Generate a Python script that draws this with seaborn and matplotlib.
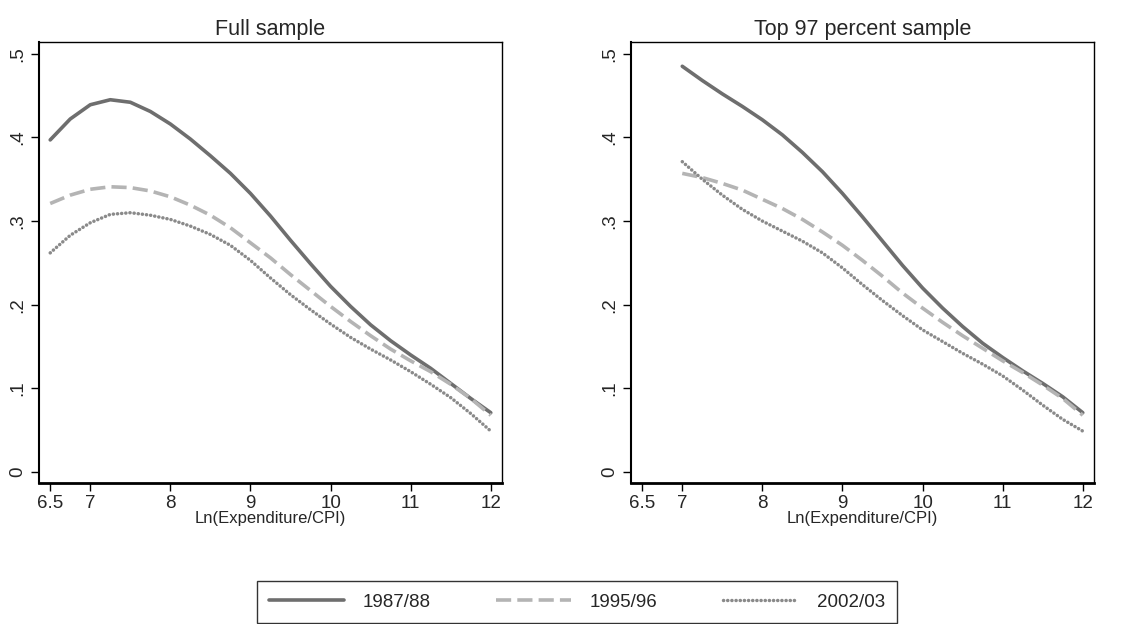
import numpy as np
import pandas as pd
import matplotlib
matplotlib.use("Agg")
import matplotlib.pyplot as plt
import seaborn as sns

# Values
x_full = [6.5, 6.75, 7.0, 7.25, 7.5, 7.75, 8.0, 8.25, 8.5, 8.75, 9.0, 9.25,
          9.5, 9.75, 10.0, 10.25, 10.5, 10.75, 11.0, 11.25, 11.5, 11.75, 12.0]
full_8788 = [0.397, 0.422, 0.439, 0.445, 0.442, 0.431, 0.416, 0.398, 0.378, 0.357, 0.333, 0.306,
             0.277, 0.249, 0.222, 0.198, 0.176, 0.157, 0.140, 0.124, 0.106, 0.088, 0.071]
full_9596 = [0.321, 0.331, 0.338, 0.341, 0.340, 0.336, 0.329, 0.319, 0.307, 0.292, 0.274, 0.256,
             0.236, 0.217, 0.198, 0.180, 0.163, 0.147, 0.133, 0.120, 0.105, 0.088, 0.068]
full_0203 = [0.262, 0.283, 0.298, 0.308, 0.310, 0.307, 0.302, 0.294, 0.284, 0.271, 0.253, 0.232,
             0.212, 0.194, 0.177, 0.161, 0.147, 0.134, 0.120, 0.105, 0.089, 0.070, 0.049]

x_top = [7.0, 7.25, 7.5, 7.75, 8.0, 8.25, 8.5, 8.75, 9.0, 9.25, 9.5,
         9.75, 10.0, 10.25, 10.5, 10.75, 11.0, 11.25, 11.5, 11.75, 12.0]
top_8788 = [0.485, 0.468, 0.452, 0.437, 0.421, 0.403, 0.382, 0.359, 0.333, 0.305, 0.276,
            0.247, 0.220, 0.196, 0.174, 0.154, 0.137, 0.121, 0.106, 0.090, 0.071]
top_9596 = [0.357, 0.352, 0.345, 0.337, 0.326, 0.315, 0.302, 0.287, 0.271, 0.253, 0.234,
            0.214, 0.196, 0.179, 0.163, 0.148, 0.133, 0.119, 0.104, 0.088, 0.068]
top_0203 = [0.371, 0.350, 0.331, 0.314, 0.300, 0.288, 0.276, 0.262, 0.244, 0.224, 0.205,
            0.187, 0.170, 0.156, 0.142, 0.129, 0.115, 0.098, 0.080, 0.063, 0.049]

years = ["1987/88", "1995/96", "2002/03"]
titles = ["Full sample", "Top 97 percent sample"]
x_ticks = [6.5, 7, 8, 9, 10, 11, 12]
x_tick_labels = ["6.5", "7", "8", "9", "10", "11", "12"]
y_ticks = [0, 0.1, 0.2, 0.3, 0.4, 0.5]
y_tick_labels = ["0", ".1", ".2", ".3", ".4", ".5"]

sns.set_style("white")
plt.rcParams["font.family"] = ["Liberation Sans", "DejaVu Sans"]

styles = {
    "1987/88": dict(color="#6e6e6e", linewidth=2.6, linestyle="-",
                    solid_capstyle="round", solid_joinstyle="round"),
    "1995/96": dict(color="#b4b4b4", linewidth=2.6, linestyle=(0, (4.2, 1.7)), dash_capstyle="butt"),
    "2002/03": dict(color="#8a8a8a", linewidth=2.5, linestyle=(0, (0.05, 1.15)), dash_capstyle="round"),
}

panels = [
    (x_full, [full_8788, full_9596, full_0203]),
    (x_top, [top_8788, top_9596, top_0203]),
]

fig = plt.figure(figsize=(11.31, 6.24), dpi=100)
ax_left = fig.add_axes([39 / 1131, 141 / 624, 463 / 1131, 441 / 624])
ax_right = fig.add_axes([631 / 1131, 141 / 624, 463 / 1131, 441 / 624])

for ax, (xs, series), title in zip([ax_left, ax_right], panels, titles):
    for year, ys in zip(years, series):
        df = pd.DataFrame({"x": xs, "y": ys})
        sns.lineplot(data=df, x="x", y="y", ax=ax, label=year, **styles[year])
    ax.set_xlim(6.36, 12.14)
    ax.set_ylim(-0.013, 0.514)
    ax.set_xticks(x_ticks)
    ax.set_xticklabels(x_tick_labels, fontsize=13.5)
    ax.set_yticks(y_ticks)
    ax.set_yticklabels(y_tick_labels, fontsize=13.5, rotation=90, va="center")
    ax.tick_params(axis="both", direction="out", length=6, width=1, color="black",
                   left=True, bottom=True, pad=3)
    ax.set_xlabel("Ln(Expenditure/CPI)", fontsize=12, labelpad=-1)
    ax.set_ylabel("")
    ax.set_title(title, fontsize=15.5, pad=5)
    for side, sp in ax.spines.items():
        sp.set_visible(True)
        sp.set_color("black")
        sp.set_linewidth(1.0)
    ax.spines["bottom"].set_linewidth(2.0)
    ax.spines["left"].set_linewidth(1.5)
    ax.get_legend().remove()

handles, labels = ax_left.get_legend_handles_labels()
leg = fig.legend(handles, labels, loc="center", bbox_to_anchor=(577 / 1131, 1 - 602 / 624),
                 ncol=3, frameon=True, fancybox=False, edgecolor="black", fontsize=13.5,
                 handlelength=4.0, columnspacing=3.5, handletextpad=1.0, borderpad=0.65)
leg.get_frame().set_linewidth(1.0)

fig.savefig("out.png", dpi=100, facecolor="white")
